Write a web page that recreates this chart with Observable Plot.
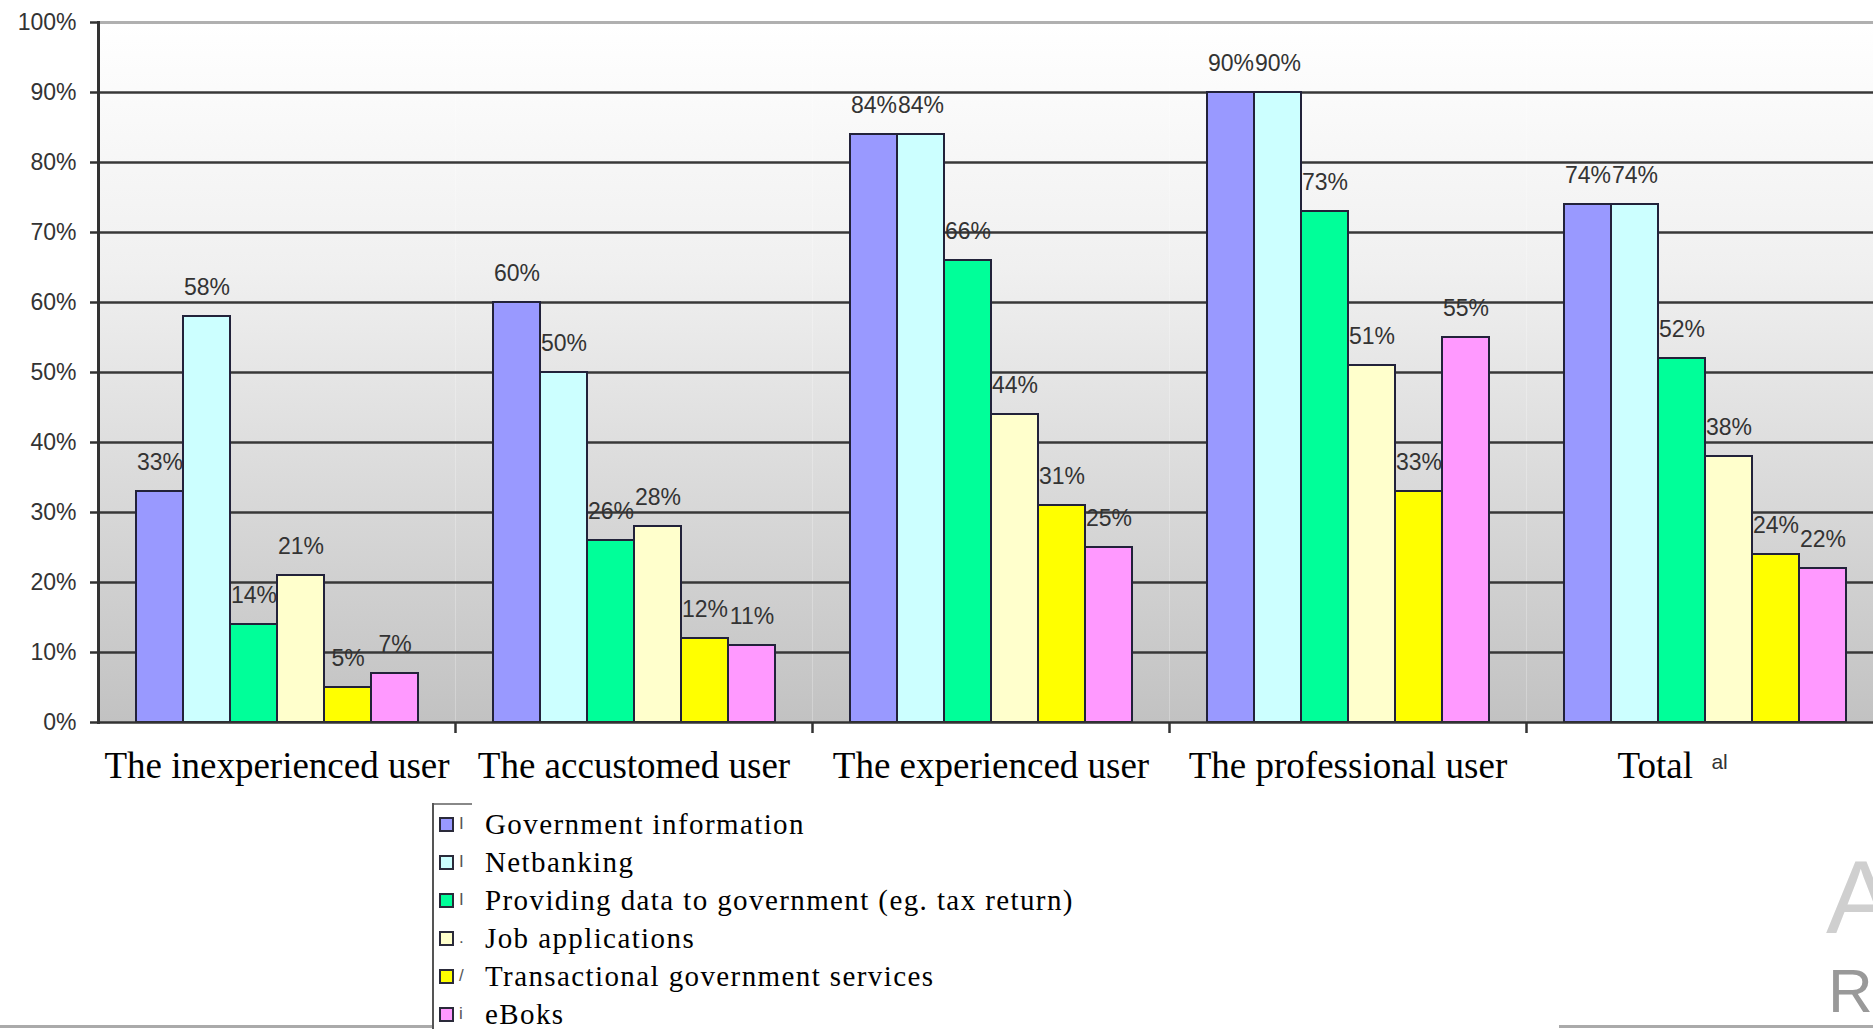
<!DOCTYPE html>
<html>
<head>
<meta charset="utf-8">
<script src="https://cdn.jsdelivr.net/npm/d3@7"></script>
<script src="https://cdn.jsdelivr.net/npm/@observablehq/plot@0.6"></script>
<style>
  html, body { margin: 0; padding: 0; background: #fff; width: 1873px; height: 1029px; overflow: hidden; position: relative; }
  #chart { position: absolute; left: 0; top: 0; }
  #legend { position: absolute; left: 432px; top: 803px; width: 720px; height: 240px; border-left: 2px solid #555; }
  #legend .topline { position: absolute; left: 0; top: 0; width: 38px; border-top: 2px solid #888; }
  #legend .item { position: absolute; left: 0; height: 38px; display: flex; align-items: center; white-space: nowrap; }
  #legend .sw { width: 11px; height: 11px; border: 2px solid #2a2a3a; margin-left: 5px; }
  #legend .gl { width: 10px; margin-left: 5px; font: 17px "Liberation Sans", Arial, sans-serif; color: #555; }
  #legend .tx { margin-left: 16px; font: 29px "Liberation Serif", "Times New Roman", serif; letter-spacing: 1.4px; color: #000; }
  .deco { position: absolute; font-family: "Liberation Sans", Arial, sans-serif; }
  .hline { position: absolute; height: 0; border-top: 3px solid #aaa; }
</style>
</head>
<body>
<svg width="0" height="0" style="position:absolute">
  <defs>
    <linearGradient id="bg" x1="0" y1="0" x2="0" y2="1">
      <stop offset="0" stop-color="#ffffff"/>
      <stop offset="0.35" stop-color="#f0f0f0"/>
      <stop offset="1" stop-color="#c2c2c2"/>
    </linearGradient>
  </defs>
</svg>
<div id="chart"></div>
<div id="legend"><div class="topline"></div></div>
<div class="deco" style="left:1826px; top:838px; font-size:104px; color:#cfcfcf;">A</div>
<div class="deco" style="left:1828px; top:955px; font-size:62px; color:#999;">R</div>
<div class="hline" style="left:0; width:432px; top:1025px;"></div>
<div class="hline" style="left:1559px; width:314px; top:1025px;"></div>
<script>
// ---- data ----
const groups = ["The inexperienced user", "The accustomed user", "The experienced user", "The professional user", "Total"];
const series = ["Government information", "Netbanking", "Providing data to government (eg. tax return)", "Job applications", "Transactional government services", "eBoks"];
const inexperienced = [33, 58, 14, 21, 5, 7];
const accustomed    = [60, 50, 26, 28, 12, 11];
const experienced   = [84, 84, 66, 44, 31, 25];
const professional  = [90, 90, 73, 51, 33, 55];
const total         = [74, 74, 52, 38, 24, 22];
const yTicks = [0, 10, 20, 30, 40, 50, 60, 70, 80, 90, 100];
const legendGlyphs = ["I", "I", "I", ".", "/", "i"];
const totalNote = "al";

// ---- styles ----
const colors = ["#9999ff", "#ccffff", "#00ff99", "#ffffcc", "#ffff00", "#ff99ff"];

const rows = [inexperienced, accustomed, experienced, professional, total];
const data = groups.flatMap((g, i) => series.map((s, j) => ({group: g, series: s, value: rows[i][j]})));

const W = 1890, H = 800, ML = 98, MR = 7, MT = 22, MB = 78;
const band = (W - ML - MR) / groups.length;

const chart = Plot.plot({
  width: W, height: H,
  marginLeft: ML, marginRight: MR, marginTop: MT, marginBottom: MB,
  style: {background: "transparent", overflow: "visible", maxWidth: "none"},
  fx: {domain: groups, padding: 0, label: null, axis: null},
  x: {domain: series, paddingInner: 0, paddingOuter: 0.758, axis: null},
  y: {domain: [0, 100], axis: null},
  color: {domain: series, range: colors},
  marks: [
    Plot.frame({fill: "url(#bg)", stroke: "none"}),
    Plot.ruleY(yTicks.filter(d => d > 0 && d < 100), {stroke: "#383838", strokeWidth: 2.5}),
    Plot.ruleY([100], {stroke: "#b0b0b0", strokeWidth: 3}),
    Plot.barY(data, {fx: "group", x: "series", y: "value", fill: "series", stroke: "#22223a", strokeWidth: 2}),
    Plot.text(data, {fx: "group", x: "series", y: "value", text: d => d.value + "%", dy: -29,
      fontSize: 23, fontFamily: "Liberation Sans, Arial, sans-serif", fill: "#333"}),
    Plot.ruleY([0], {stroke: "#333", strokeWidth: 2.5}),
    Plot.frame({anchor: "left", facet: "super", stroke: "#333", strokeWidth: 3}),
    Plot.axisY(yTicks, {tickFormat: d => d + "%", tickSize: 8, tickPadding: 14, stroke: "#333", strokeWidth: 2.5,
      fontSize: 23, fontFamily: "Liberation Sans, Arial, sans-serif", fill: "#333", label: null}),
    Plot.axisFx({anchor: "bottom", tickSize: 0, tickPadding: 29, fontSize: 37,
      fontFamily: "Liberation Serif, Times New Roman, serif", fill: "#000", label: null}),
    Plot.axisFx({anchor: "bottom", tickSize: 11, fill: "none", dx: band / 2, stroke: "#333", strokeWidth: 2.5, label: null})
  ]
});
document.getElementById("chart").appendChild(chart);

// The "Total" label carries a small raised note; the combined label sits left of the band centre.
d3.select(chart).selectAll("text").filter(function () { return this.textContent === "Total"; }).each(function () {
  const t = d3.select(this);
  t.text(null);
  t.append("tspan").text("Total\u00a0\u00a0");
  t.append("tspan").text(totalNote).attr("dy", -9)
    .attr("font-size", 21).attr("font-family", "Liberation Sans, Arial, sans-serif").attr("fill", "#333");
  t.append("tspan").text("\u00a0".repeat(7)).attr("dy", 9);
});

// ---- legend ----
const legend = document.getElementById("legend");
series.forEach((s, i) => {
  const item = document.createElement("div");
  item.className = "item";
  item.style.top = (2 + i * 38) + "px";
  const sw = document.createElement("div");
  sw.className = "sw";
  sw.style.background = colors[i];
  const gl = document.createElement("span");
  gl.className = "gl";
  gl.textContent = legendGlyphs[i];
  const tx = document.createElement("span");
  tx.className = "tx";
  tx.textContent = s;
  item.append(sw, gl, tx);
  legend.appendChild(item);
});
</script>
</body>
</html>
